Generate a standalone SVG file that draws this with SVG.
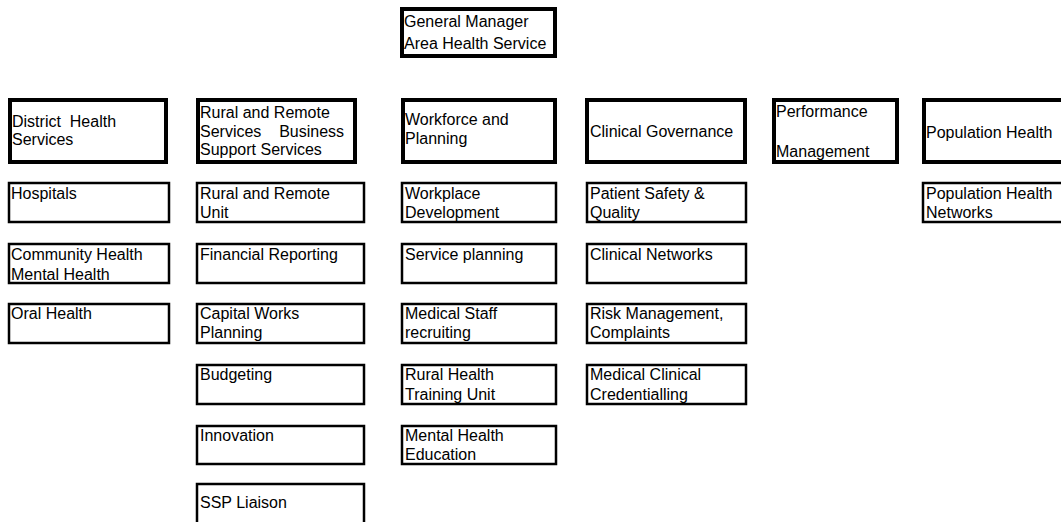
<svg xmlns="http://www.w3.org/2000/svg" width="1061" height="522" viewBox="0 0 1061 522">
  <style>
    .head { fill: #ffffff; stroke: #000000; stroke-width: 4; }
    .sub { fill: #ffffff; stroke: #000000; stroke-width: 2.5; }
    text { font-family: "Liberation Sans", Arial, sans-serif; font-size: 16px; fill: #000000; white-space: pre; }
  </style>
  <rect x="0" y="0" width="1061" height="522" fill="#ffffff"/>

  <!-- No connector lines are drawn in this chart; group kept for structure -->
  <g id="connectors"></g>

  <!-- Top level -->
  <g id="general-manager">
    <rect class="head" x="402" y="9" width="153" height="47"/>
    <text x="404" y="27">General Manager</text>
    <text x="404" y="49">Area Health Service</text>
  </g>

  <!-- Division heads -->
  <g id="district-health-services">
    <rect class="head" x="10" y="100" width="156" height="62"/>
    <text x="12" y="127" xml:space="preserve">District  Health</text>
    <text x="12" y="145">Services</text>
  </g>
  <g id="rural-remote-business-support">
    <rect class="head" x="198" y="100" width="157" height="62"/>
    <text x="200" y="118">Rural and Remote</text>
    <text x="200" y="137" xml:space="preserve">Services    Business</text>
    <text x="200" y="155">Support Services</text>
  </g>
  <g id="workforce-planning">
    <rect class="head" x="403" y="100" width="152" height="62"/>
    <text x="405" y="125">Workforce and</text>
    <text x="405" y="144">Planning</text>
  </g>
  <g id="clinical-governance">
    <rect class="head" x="587" y="100" width="158" height="62"/>
    <text x="590" y="137">Clinical Governance</text>
  </g>
  <g id="performance-management">
    <rect class="head" x="774" y="100" width="123" height="62"/>
    <text x="776" y="117">Performance</text>
    <text x="776" y="157">Management</text>
  </g>
  <g id="population-health">
    <rect class="head" x="924" y="100" width="150" height="62"/>
    <text x="926" y="138">Population Health</text>
  </g>

  <!-- District Health Services units -->
  <g id="hospitals">
    <rect class="sub" x="9" y="183" width="160" height="39"/>
    <text x="11" y="199">Hospitals</text>
  </g>
  <g id="community-mental-health">
    <rect class="sub" x="9" y="244" width="160" height="39"/>
    <text x="11" y="260">Community Health</text>
    <text x="11" y="280">Mental Health</text>
  </g>
  <g id="oral-health">
    <rect class="sub" x="9" y="304" width="160" height="39"/>
    <text x="11" y="319">Oral Health</text>
  </g>

  <!-- Rural and Remote / Business Support units -->
  <g id="rural-remote-unit">
    <rect class="sub" x="197" y="183" width="167" height="39"/>
    <text x="200" y="199">Rural and Remote</text>
    <text x="200" y="218">Unit</text>
  </g>
  <g id="financial-reporting">
    <rect class="sub" x="197" y="244" width="167" height="39"/>
    <text x="200" y="260">Financial Reporting</text>
  </g>
  <g id="capital-works-planning">
    <rect class="sub" x="197" y="304" width="167" height="39"/>
    <text x="200" y="319">Capital Works</text>
    <text x="200" y="338">Planning</text>
  </g>
  <g id="budgeting">
    <rect class="sub" x="197" y="365" width="167" height="39"/>
    <text x="200" y="380">Budgeting</text>
  </g>
  <g id="innovation">
    <rect class="sub" x="197" y="426" width="167" height="38"/>
    <text x="200" y="441">Innovation</text>
  </g>
  <g id="ssp-liaison">
    <rect class="sub" x="197" y="484" width="167" height="50"/>
    <text x="200" y="508">SSP Liaison</text>
  </g>

  <!-- Workforce and Planning units -->
  <g id="workplace-development">
    <rect class="sub" x="402" y="183" width="154" height="39"/>
    <text x="405" y="199">Workplace</text>
    <text x="405" y="218">Development</text>
  </g>
  <g id="service-planning">
    <rect class="sub" x="402" y="244" width="154" height="39"/>
    <text x="405" y="260">Service planning</text>
  </g>
  <g id="medical-staff-recruiting">
    <rect class="sub" x="402" y="304" width="154" height="39"/>
    <text x="405" y="319">Medical Staff</text>
    <text x="405" y="338">recruiting</text>
  </g>
  <g id="rural-health-training-unit">
    <rect class="sub" x="402" y="365" width="154" height="39"/>
    <text x="405" y="380">Rural Health</text>
    <text x="405" y="400">Training Unit</text>
  </g>
  <g id="mental-health-education">
    <rect class="sub" x="402" y="426" width="154" height="38"/>
    <text x="405" y="441">Mental Health</text>
    <text x="405" y="460">Education</text>
  </g>

  <!-- Clinical Governance units -->
  <g id="patient-safety-quality">
    <rect class="sub" x="587" y="183" width="159" height="39"/>
    <text x="590" y="199">Patient Safety &amp;</text>
    <text x="590" y="218">Quality</text>
  </g>
  <g id="clinical-networks">
    <rect class="sub" x="587" y="244" width="159" height="39"/>
    <text x="590" y="260">Clinical Networks</text>
  </g>
  <g id="risk-management-complaints">
    <rect class="sub" x="587" y="304" width="159" height="39"/>
    <text x="590" y="319">Risk Management,</text>
    <text x="590" y="338">Complaints</text>
  </g>
  <g id="medical-clinical-credentialling">
    <rect class="sub" x="587" y="365" width="159" height="39"/>
    <text x="590" y="380">Medical Clinical</text>
    <text x="590" y="400">Credentialling</text>
  </g>

  <!-- Population Health units -->
  <g id="population-health-networks">
    <rect class="sub" x="923" y="183" width="150" height="39"/>
    <text x="926" y="199">Population Health</text>
    <text x="926" y="218">Networks</text>
  </g>
</svg>
